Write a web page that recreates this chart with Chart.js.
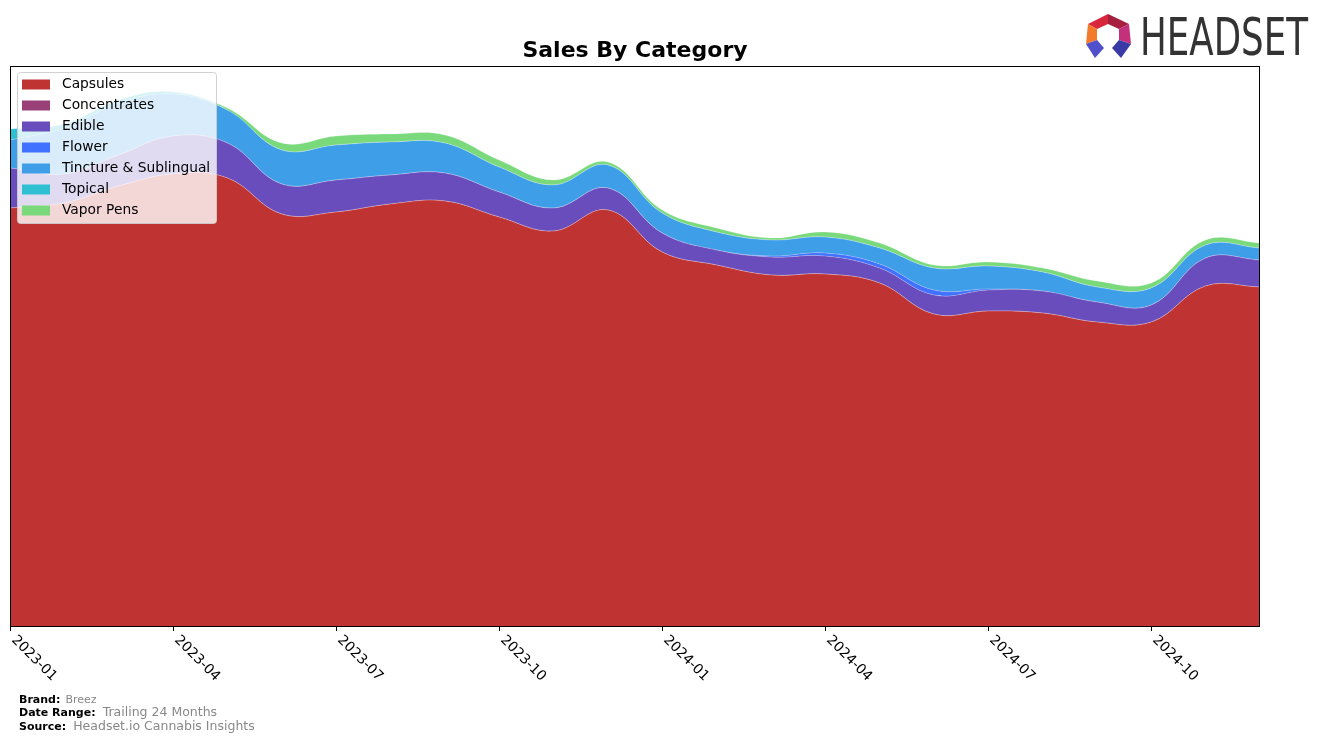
<!DOCTYPE html>
<html>
<head>
<meta charset="utf-8">
<script src="https://cdn.jsdelivr.net/npm/chart.js@4/dist/chart.umd.min.js"></script>
<style>
  html, body { margin: 0; padding: 0; background: #fff; }
  #wrap { position: relative; width: 1324px; height: 742px; }
  #chart { position: absolute; left: 0; top: 0; }
  #logo { position: absolute; left: 1080px; top: 8px; }
  .foot { position: absolute; left: 19px; font-family: "DejaVu Sans", sans-serif; white-space: nowrap; }
  .foot b { font-size: 11px; color: #000; }
  .foot span { color: #888; }
</style>
</head>
<body>
<div id="wrap">
  <canvas id="chart" width="1324" height="742"></canvas>
  <canvas id="logo" width="240" height="56"></canvas>
  <div class="foot" style="top:688px"><b>Brand:</b> <span style="font-size:11px">Breez</span></div>
  <div class="foot" style="top:701px"><b>Date Range:</b>&nbsp;<span style="font-size:12.5px;margin-left:2px">Trailing 24 Months</span></div>
  <div class="foot" style="top:715px"><b>Source:</b>&nbsp;<span style="font-size:12.5px;margin-left:2px">Headset.io Cannabis Insights</span></div>
</div>
<script>
// monthly sales by category (arbitrary units)
const months = ['2023-01','2023-02','2023-03','2023-04','2023-05','2023-06','2023-07','2023-08','2023-09','2023-10','2023-11','2023-12',
                '2024-01','2024-02','2024-03','2024-04','2024-05','2024-06','2024-07','2024-08','2024-09','2024-10','2024-11','2024-12'];
const tickLabels = ['2023-01','2023-04','2023-07','2023-10','2024-01','2024-04','2024-07','2024-10'];

const capsules     = [418, 423, 440, 452, 448, 412, 414, 422, 425, 409, 395, 416, 374, 361, 351, 352, 343, 312, 315, 313, 304, 304, 340, 339];
const concentrates = [0, 0, 0, 0, 0, 0, 0, 0, 0, 0, 0, 0, 0, 0, 0, 0, 0, 0, 0, 0, 0, 0, 0, 0];
const edible       = [40, 29, 31, 38, 35, 30, 32, 29, 28, 25, 23, 22, 19, 15, 18, 18, 15, 19, 21, 22, 20, 17, 28, 27];
const flower       = [0, 0, 0, 0, 0, 0, 0, 0, 0, 0, 0, 0, 0, 0, 1, 3, 4, 5, 1, 0, 0, 0, 0, 0];
const tincture     = [28, 46, 52, 42, 33, 34, 35, 33, 30, 25, 23, 23, 20, 18, 16, 16, 16, 22, 23, 19, 15, 17, 13, 12];
const topical      = [11, 4, 3, 2, 0, 0, 0, 0, 0, 0, 0, 0, 0, 0, 0, 0, 0, 0, 0, 0, 0, 0, 0, 0];
const vaporPens    = [0, 0, 0, 0, 2, 7, 9, 8, 8, 7, 5, 3, 3, 4, 2, 5, 5, 3, 4, 4, 6, 5, 5, 5];

const series = [
  ['Capsules', capsules, '#c03333'],
  ['Concentrates', concentrates, '#9a4079'],
  ['Edible', edible, '#6a4dbd'],
  ['Flower', flower, '#4071ff'],
  ['Tincture & Sublingual', tincture, '#3e9fe8'],
  ['Topical', topical, '#2ebfd3'],
  ['Vapor Pens', vaporPens, '#79d97b'],
];

const FONT = '"DejaVu Sans", sans-serif';

const decor = {
  id: 'decor',
  afterDatasetsDraw(chart) {
    const { ctx, chartArea: a } = chart;
    const x = chart.scales.x;
    ctx.save();
    // frame
    ctx.strokeStyle = '#000';
    ctx.lineWidth = 1;
    ctx.strokeRect(a.left + 0.5, a.top + 0.5, a.right - a.left - 1, a.bottom - a.top);
    // ticks + rotated labels
    ctx.fillStyle = '#000';
    ctx.font = '13.9px ' + FONT;
    ctx.textAlign = 'left';
    ctx.textBaseline = 'middle';
    tickLabels.forEach(lbl => {
      const px = Math.round(x.getPixelForValue(months.indexOf(lbl))) + 0.5;
      ctx.beginPath();
      ctx.moveTo(px, a.bottom);
      ctx.lineTo(px, a.bottom + 5);
      ctx.stroke();
      ctx.save();
      ctx.translate(px + 3, a.bottom + 12);
      ctx.rotate(Math.PI / 4);
      ctx.fillText(lbl, 0, 0);
      ctx.restore();
    });
    // title
    ctx.font = 'bold 22px ' + FONT;
    ctx.textAlign = 'center';
    ctx.fillText('Sales By Category', (a.left + a.right) / 2, 51);
    // legend overlay
    const lx = 17, ly = 72, lw = 199, lh = 151;
    ctx.beginPath();
    ctx.roundRect(lx + 0.5, ly + 0.5, lw, lh, 3);
    ctx.fillStyle = 'rgba(255,255,255,0.8)';
    ctx.fill();
    ctx.strokeStyle = 'rgba(204,204,204,0.9)';
    ctx.stroke();
    ctx.font = '13.8px ' + FONT;
    ctx.textAlign = 'left';
    chart.data.datasets.forEach((ds, i) => {
      const cy = ly + 12.5 + i * 21;
      ctx.fillStyle = ds.backgroundColor;
      ctx.fillRect(22, cy - 5, 28, 10);
      ctx.fillStyle = '#000';
      ctx.fillText(ds.label, 62, cy);
    });
    ctx.restore();
  }
};

new Chart(document.getElementById('chart'), {
  type: 'line',
  data: {
    labels: months,
    datasets: series.map(([label, values, color], i) => ({
      label,
      data: values,
      backgroundColor: color,
      borderColor: 'rgba(255,255,255,0.25)',
      borderWidth: 1,
      pointRadius: 0,
      tension: 0.4,
      fill: i === 0 ? 'origin' : '-1',
    })),
  },
  options: {
    responsive: false,
    animation: false,
    devicePixelRatio: 1,
    layout: { padding: { left: 10, top: 66, right: 64, bottom: 116 } },
    plugins: { legend: { display: false }, tooltip: { enabled: false } },
    scales: {
      x: { display: false, offset: false },
      y: { display: false, stacked: true, min: 0, max: 560 },
    },
  },
  plugins: [decor],
});

// headset logo
const lg = document.getElementById('logo').getContext('2d');
const ox = -1080, oy = -8;
const poly = (pts, c) => {
  lg.beginPath();
  pts.forEach(([px, py], k) => k ? lg.lineTo(px + ox, py + oy) : lg.moveTo(px + ox, py + oy));
  lg.closePath();
  lg.fillStyle = c;
  lg.fill();
};
poly([[1088,24],[1108,14],[1108,24],[1097,29]], '#d8263d');
poly([[1108,14],[1129,24],[1119,29],[1108,24]], '#a61f3e');
poly([[1088,24],[1097,29],[1097,40],[1086,44]], '#f27a2a');
poly([[1129,24],[1131,44],[1119,40],[1119,29]], '#c3307c');
poly([[1086,44],[1097,40],[1104,48],[1095,58]], '#5050cc');
poly([[1131,44],[1119,40],[1112,48],[1121,58]], '#3a3aa6');
lg.save();
lg.font = '51px "Liberation Sans Narrow", "DejaVu Sans Condensed", sans-serif';
const tw = lg.measureText('HEADSET').width;
lg.translate(1140 + ox, 55 + oy);
lg.scale(168 / tw, 1);
lg.fillStyle = '#333';
lg.textBaseline = 'alphabetic';
lg.fillText('HEADSET', 0, 0);
lg.restore();
</script>
</body>
</html>
